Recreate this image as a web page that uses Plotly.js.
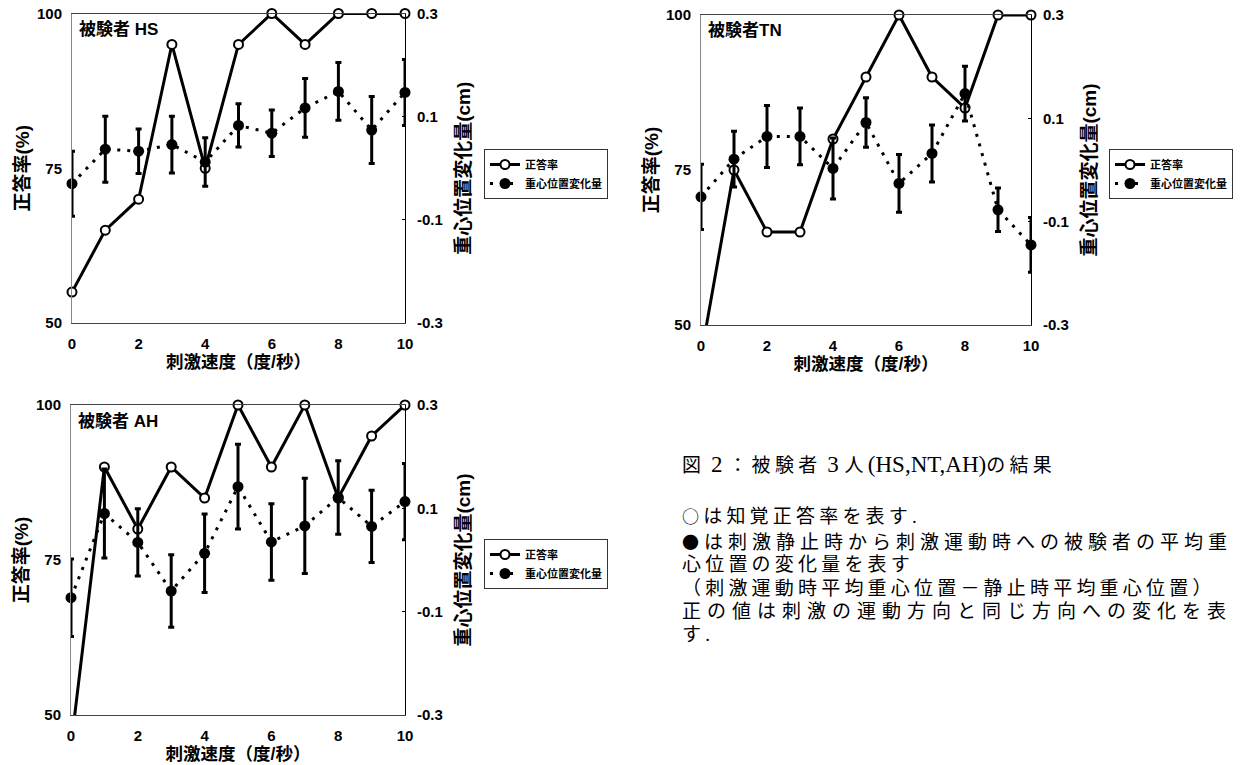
<!DOCTYPE html>
<html>
<head>
<meta charset="utf-8">
<script src="https://cdn.plot.ly/plotly-3.0.1.min.js"></script>
<style>
html,body{margin:0;padding:0;background:#fff;}
#chart{width:1248px;height:765px;}
g.annotation[data-index="0"] text { letter-spacing: 4.3px; }
g.annotation[data-index="1"] text, g.annotation[data-index="3"] text,
g.annotation[data-index="4"] text, g.annotation[data-index="6"] text { letter-spacing: 4.2px; }
g.annotation[data-index="2"] text { letter-spacing: 5px; }
g.annotation[data-index="5"] text { letter-spacing: 6px; }
</style>
</head>
<body>
<div id="chart"></div>
<script>
// ---- data ----
const speeds = [0, 1, 2, 3, 4, 5, 6, 7, 8, 9, 10];
const xTickVals = [0, 2, 4, 6, 8, 10];
const xTickText = ["0", "2", "4", "6", "8", "10"];
const leftTickVals = [50, 75, 100];
const leftTickText = ["50", "75", "100"];
const rightTickVals = [-0.3, -0.1, 0.1, 0.3];
const rightTickText = ["-0.3", "-0.1", "0.1", "0.3"];

const subjects = ["被験者 HS", "被験者TN", "被験者 AH"];
const seriesNames = ["正答率", "重心位置変化量"];

const hsAcc = [55, 65, 70, 95, 75, 95, 100, 95, 100, 100, 100];
const hsCog = [-0.030, 0.037, 0.033, 0.046, 0.012, 0.083, 0.068, 0.117, 0.149, 0.074, 0.147];
const hsErr = [0.063, 0.064, 0.043, 0.055, 0.047, 0.042, 0.045, 0.057, 0.056, 0.065, 0.064];

const tnAcc = [45, 75, 65, 65, 80, 90, 100, 90, 85, 100, 100];
const tnCog = [-0.052, 0.021, 0.065, 0.065, 0.003, 0.092, -0.026, 0.032, 0.148, -0.077, -0.145];
const tnErr = [0.063, 0.054, 0.060, 0.055, 0.059, 0.048, 0.056, 0.055, 0.053, 0.042, 0.053];

const ahAcc = [45, 90, 80, 90, 85, 100, 90, 100, 85, 95, 100];
const ahCog = [-0.073, 0.090, 0.034, -0.060, 0.013, 0.142, 0.035, 0.066, 0.121, 0.065, 0.113];
const ahErr = [0.075, 0.086, 0.065, 0.070, 0.076, 0.082, 0.074, 0.092, 0.071, 0.070, 0.074];

const L = s => "<span style=\"letter-spacing:0px;font-size:23px\">" + s + "</span>";
const S = s => "<span style=\"font-family:'Noto Sans CJK JP';font-size:17px\">" + s + "</span>";
const captionLines = [
  "図" + L(" 2 ") + "：被験者" + L(" 3 ") + "人" + L("(HS,NT,AH)") + "の結果",
  S("○") + "は知覚正答率を表す.",
  S("●") + "は刺激静止時から刺激運動時への被験者の平均重",
  "心位置の変化量を表す",
  "（刺激運動時平均重心位置－静止時平均重心位置）",
  "正の値は刺激の運動方向と同じ方向への変化を表",
  "す."
];

// ---- layout helpers ----
const W = 1248, H = 765;
const px = v => v / W;
const py = v => 1 - v / H;

const SANS = "Liberation Sans, Arial, Noto Sans CJK JP, sans-serif";
const CJK = "Liberation Sans, Noto Sans CJK JP, sans-serif";

const panels = [
  {acc: hsAcc, cog: hsCog, err: hsErr, x0: 72, x1: 405, yt: 13.5, yb: 323, ax: ["x","y","y2","x2"], legend: "legend"},
  {acc: tnAcc, cog: tnCog, err: tnErr, x0: 701, x1: 1031, yt: 15, yb: 325, ax: ["x3","y3","y4","x4"], legend: "legend2"},
  {acc: ahAcc, cog: ahCog, err: ahErr, x0: 71, x1: 405, yt: 405, yb: 715, ax: ["x5","y5","y6","x6"], legend: "legend3"}
];

const data = [];
const layout = {
  width: W, height: H,
  margin: {l: 0, r: 0, t: 0, b: 0},
  paper_bgcolor: "#fff", plot_bgcolor: "#fff",
  showlegend: true,
  annotations: [],
  font: {family: SANS, color: "#000"}
};

function axKey(id) {
  const letter = id[0];
  const n = id.slice(1);
  return letter + "axis" + (n === "" ? "" : n);
}

const tickFont = () => ({family: SANS, size: 15, color: "#000", weight: "bold"});
const xTitleFont = () => ({family: CJK, size: 17.5, color: "#000", weight: "bold"});
const yTitleFont = () => ({family: CJK, size: 19, color: "#000", weight: "bold"});

panels.forEach((p, i) => {
  const [xa, ya, ya2, xt] = p.ax;
  const xd = [px(p.x0), px(p.x1)];
  const yd = [py(p.yb), py(p.yt)];

  data.push({
    type: "scatter", mode: "lines+markers", name: seriesNames[0],
    x: speeds, y: p.acc, xaxis: xa, yaxis: ya, legend: p.legend,
    line: {color: "#000", width: 3},
    marker: {symbol: "circle", size: 9, color: "#fff", line: {color: "#000", width: 2}},
    cliponaxis: false, hoverinfo: "x+y"
  });
  data.push({
    type: "scatter", mode: "lines+markers", name: seriesNames[1],
    x: speeds, y: p.cog, xaxis: xa, yaxis: ya2, legend: p.legend,
    line: {color: "#000", width: 3, dash: "3px,7px"},
    marker: {symbol: "circle", size: 11, color: "#000"},
    error_y: {type: "data", array: p.err, visible: true, color: "#000", thickness: 3, width: 3},
    cliponaxis: false, hoverinfo: "x+y"
  });

  layout[axKey(xa)] = {
    domain: xd, anchor: ya, range: [0, 10],
    tickvals: xTickVals, ticktext: xTickText, ticks: "",
    tickfont: tickFont(), ticklabelstandoff: 7,
    showline: true, mirror: true, linecolor: "#444", linewidth: 1,
    showgrid: false, zeroline: false, fixedrange: true,
    title: {text: "刺激速度（度/秒）", font: xTitleFont(), standoff: 3}
  };
  layout[axKey(xt)] = {
    overlaying: xa, anchor: "free", position: (yd[0] + yd[1]) / 2,
    range: [0, 10], dtick: 1, tick0: 0, ticks: "outside", ticklen: 4, tickcolor: "#000",
    showticklabels: false, showline: true, linecolor: "#000", linewidth: 1,
    showgrid: false, zeroline: false, fixedrange: true
  };
  layout[axKey(ya)] = {
    domain: yd, anchor: xa, range: [50, 100],
    tickvals: leftTickVals, ticktext: leftTickText, ticks: "",
    tickfont: tickFont(), ticklabelstandoff: 6,
    showline: true, linecolor: "#888", linewidth: 1,
    showgrid: false, zeroline: false, fixedrange: true,
    title: {text: "正答率(%)", font: yTitleFont(), standoff: 2}
  };
  layout[axKey(ya2)] = {
    overlaying: ya, side: "right", anchor: xa, range: [-0.3, 0.3],
    tickvals: rightTickVals, ticktext: rightTickText, ticks: "inside", ticklen: 3, tickcolor: "#000",
    tickfont: tickFont(), ticklabelstandoff: 8,
    showline: true, linecolor: "#000", linewidth: 1,
    showgrid: false, zeroline: false, fixedrange: true,
    title: {text: "重心位置変化量(cm)", font: yTitleFont(), standoff: 14}
  };

  layout[p.legend] = {
    x: i === 1 ? px(1109) : px(484), y: i === 2 ? py(539) : py(149),
    xref: "paper", yref: "paper", xanchor: "left", yanchor: "top",
    bgcolor: "#fff", bordercolor: "#333", borderwidth: 1,
    font: {family: CJK, size: 11, color: "#000", weight: "bold"},
    itemwidth: 30, tracegroupgap: 0
  };
});

// caption annotations (indices 0..6)
const capY = [465, 515, 541, 564, 588, 611, 634];
captionLines.forEach((t, i) => {
  layout.annotations.push({
    text: t, xref: "paper", yref: "paper", x: px(680), y: py(capY[i]),
    xanchor: "left", yanchor: "middle", showarrow: false, align: "left",
    font: {family: "Liberation Serif, Noto Sans CJK JP, serif", size: 19, color: "#000"}
  });
});

// subject labels
panels.forEach((p, i) => {
  layout.annotations.push({
    text: subjects[i], xref: "paper", yref: "paper", x: px(p.x0 + 5), y: py(p.yt + 16),
    xanchor: "left", yanchor: "middle", showarrow: false,
    font: {family: CJK, size: 17, color: "#000", weight: "bold"}
  });
});

Plotly.newPlot("chart", data, layout, {staticPlot: true, displayModeBar: false});
</script>
</body>
</html>
